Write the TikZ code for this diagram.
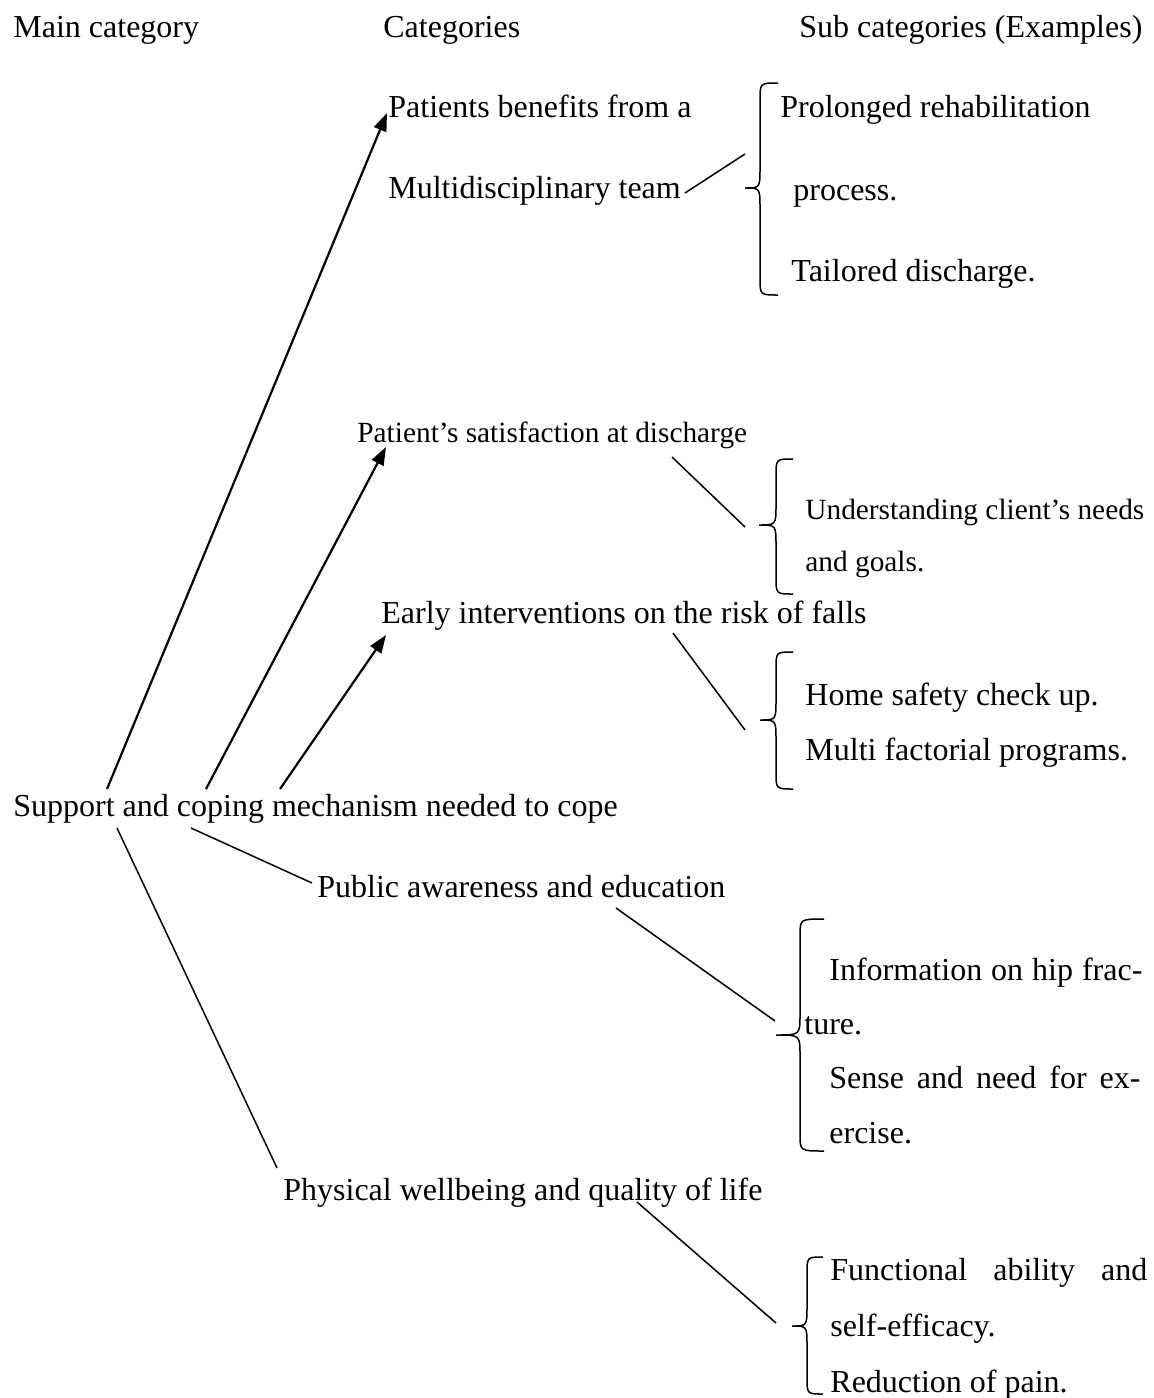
\documentclass[tikz,border=0pt]{standalone}
\usepackage{fontspec}
\setmainfont{Liberation Serif}
\usetikzlibrary{arrows.meta}
\newcommand\wbrace[6]{% xtip xvert xend ytop ytip ybot
  \draw[brc] (#3,#4) .. controls (#2,#4) .. (#2,#4+17) -- (#2,#5-20)
    .. controls (#2,#5) .. (#1,#5) .. controls (#2,#5) .. (#2,#5+20)
    -- (#2,#6-17) .. controls (#2,#6) .. (#3,#6);}
\begin{document}
\begin{tikzpicture}[x=0.5pt,y=-0.5pt,
  txt/.style={anchor=base west,inner sep=0pt,font=\fontsize{16}{19}\selectfont},
  stxt/.style={anchor=base west,inner sep=0pt,font=\fontsize{14.67}{17}\selectfont},
  conn/.style={line width=0.75pt},
  arr/.style={line width=1.1pt,-{Triangle[length=9pt,width=6.5pt]}},
  brc/.style={line width=0.75pt}]
\useasboundingbox (0,0) rectangle (1154,1398);
% headers
\node[txt] (hmain) at (13,37) {Main category};
\node[txt] (hcat) at (383,37) {Categories};
\node[txt] (hsub) at (799,37) {Sub categories (Examples)};
% categories and sub categories
\node[txt] (c1a) at (388,117) {Patients benefits from a};
\node[txt] (c1b) at (388,198) {Multidisciplinary team};
\node[txt] (s1a) at (780,117) {Prolonged rehabilitation};
\node[txt] (s1b) at (793,200) {process.};
\node[txt] (s1c) at (791,281) {Tailored discharge.};
\node[stxt] (c2) at (357,442) {Patient’s satisfaction at discharge};
\node[stxt] (s2a) at (805,519) {Understanding client’s needs};
\node[stxt] (s2b) at (805,571) {and goals.};
\node[txt] (c3) at (381,623) {Early interventions on the risk of falls};
\node[txt] (s3a) at (805,705) {Home safety check up.};
\node[txt] (s3b) at (805,760) {Multi factorial programs.};
\node[txt] (main) at (13,816) {Support and coping mechanism needed to cope};
\node[txt] (c4) at (317,897) {Public awareness and education};
\node[txt] (s4a) at (829,980) {\makebox[156.5pt][s]{Information on hip frac-}};
\node[txt] (s4b) at (804,1034) {ture.};
\node[txt] (s4c) at (829,1088) {\makebox[155.5pt][s]{Sense and need for ex-}};
\node[txt] (s4d) at (829,1143) {ercise.};
\node[txt] (c5) at (283,1200) {Physical wellbeing and quality of life};
\node[txt] (s5a) at (830,1280) {\makebox[158.5pt][s]{Functional ability and}};
\node[txt] (s5b) at (830,1336) {self-efficacy.};
\node[txt] (s5c) at (830,1392) {Reduction of pain.};
% connector end points
\coordinate (m1) at (107,789);
\coordinate (m2) at (206,789);
\coordinate (m3) at (280,789);
\coordinate (m4) at (117,828);
\coordinate (m5) at (191,828);
\coordinate (t1) at (387,113);
\coordinate (t2) at (386,447);
\coordinate (t3) at (386,635);
\coordinate (t4) at (312,883);
\coordinate (t5) at (277,1168);
\coordinate (e1a) at (685,193);
\coordinate (e1b) at (745,154);
\coordinate (e2a) at (672,457);
\coordinate (e2b) at (745,527);
\coordinate (e3a) at (673,633);
\coordinate (e3b) at (745,730);
\coordinate (e4a) at (616,908);
\coordinate (e4b) at (775,1021);
\coordinate (e5a) at (637,1202);
\coordinate (e5b) at (776,1323);
% arrows and lines from main category
\draw[arr] (m1) -- (t1);
\draw[arr] (m2) -- (t2);
\draw[arr] (m3) -- (t3);
\draw[conn] (m5) -- (t4);
\draw[conn] (m4) -- (t5);
% lines to braces
\draw[conn] (e1a) -- (e1b);
\draw[conn] (e2a) -- (e2b);
\draw[conn] (e3a) -- (e3b);
\draw[conn] (e4a) -- (e4b);
\draw[conn] (e5a) -- (e5b);
% braces
\wbrace{745}{760}{778}{83}{188}{295}
\wbrace{759}{776}{793}{459}{525}{594}
\wbrace{760}{776}{793}{652}{720}{789}
\wbrace{776}{800}{824}{919}{1035}{1151}
\wbrace{792}{807}{823}{1257}{1326}{1394}
\end{tikzpicture}
\end{document}
